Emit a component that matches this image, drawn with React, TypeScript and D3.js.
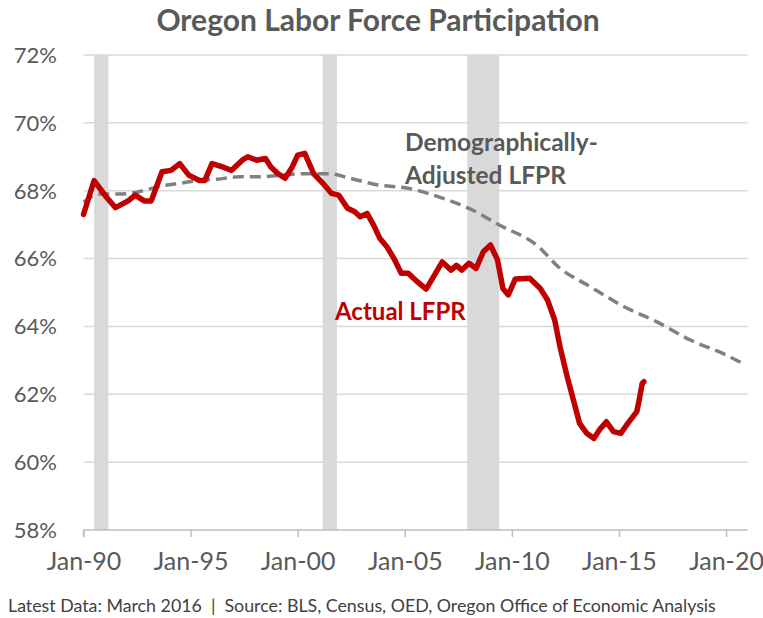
import { useRef, useEffect } from 'react';
import * as d3 from 'd3';

// Actual Oregon LFPR (month, percent)
const ACTUAL_LFPR: [string, number][] = [
  ['1990-01', 67.3], ['1990-07', 68.3], ['1991-02', 67.8], ['1991-07', 67.5],
  ['1992-02', 67.7], ['1992-06', 67.87], ['1992-11', 67.7], ['1993-03', 67.7],
  ['1993-09', 68.56], ['1994-02', 68.6], ['1994-07', 68.8], ['1994-12', 68.46],
  ['1995-06', 68.3], ['1995-09', 68.3], ['1996-01', 68.8], ['1996-07', 68.7],
  ['1996-12', 68.6], ['1997-06', 68.9], ['1997-09', 69.0], ['1998-02', 68.9],
  ['1998-07', 68.95], ['1998-10', 68.7], ['1999-02', 68.5], ['1999-06', 68.37],
  ['1999-10', 68.7], ['2000-01', 69.05], ['2000-05', 69.1], ['2000-10', 68.5],
  ['2001-04', 68.17], ['2001-08', 67.92], ['2001-12', 67.87], ['2002-05', 67.48],
  ['2002-09', 67.38], ['2002-12', 67.23], ['2003-04', 67.33], ['2003-08', 66.94],
  ['2003-11', 66.6], ['2004-03', 66.35], ['2004-07', 66.0], ['2004-11', 65.57],
  ['2005-03', 65.57], ['2005-08', 65.32], ['2006-01', 65.1], ['2006-10', 65.9],
  ['2007-03', 65.66], ['2007-06', 65.8], ['2007-09', 65.66], ['2008-01', 65.86],
  ['2008-05', 65.71], ['2008-09', 66.2], ['2009-01', 66.4], ['2009-05', 65.96],
  ['2009-08', 65.12], ['2009-11', 64.93], ['2010-03', 65.4], ['2010-11', 65.42],
  ['2011-05', 65.12], ['2011-09', 64.78], ['2012-01', 64.19], ['2012-04', 63.4],
  ['2012-08', 62.52], ['2012-12', 61.73], ['2013-03', 61.14], ['2013-07', 60.85],
  ['2013-11', 60.7], ['2014-02', 60.95], ['2014-06', 61.19], ['2014-10', 60.9],
  ['2015-02', 60.85], ['2015-06', 61.14], ['2015-11', 61.49], ['2015-12', 61.73],
  ['2016-02', 62.32], ['2016-03', 62.37],
];

// Demographically-adjusted LFPR (dashed)
const ADJUSTED_LFPR: [string, number][] = [
  ['1990-01', 67.66], ['1990-10', 67.9], ['1991-09', 67.9], ['1992-08', 67.97],
  ['1993-07', 68.12], ['1994-07', 68.22], ['1995-06', 68.3], ['1996-04', 68.34],
  ['1997-04', 68.41], ['1998-03', 68.41], ['1999-02', 68.45], ['2000-02', 68.5],
  ['2001-07', 68.5], ['2002-06', 68.37], ['2003-10', 68.17], ['2005-03', 68.07],
  ['2006-08', 67.82], ['2008-01', 67.48], ['2009-06', 66.99], ['2011-04', 66.35],
  ['2012-03', 65.76], ['2013-09', 65.17], ['2015-04', 64.58], ['2016-10', 64.14],
  ['2018-05', 63.6], ['2020-01', 63.16], ['2020-12', 62.86],
];

// NBER recessions shaded in grey
const RECESSIONS: [string, string][] = [
  ['1990-07', '1991-03'],
  ['2001-03', '2001-11'],
  ['2007-12', '2009-06'],
];

const Y_TICKS = [58, 60, 62, 64, 66, 68, 70, 72];
const X_TICK_YEARS = [1990, 1995, 2000, 2005, 2010, 2015, 2020];

const TITLE = 'Oregon Labor Force Participation';
const FOOTER = 'Latest Data: March 2016  |  Source: BLS, Census, OED, Oregon Office of Economic Analysis';

const FONT = 'Lato, "Open Sans", sans-serif';

export default function App() {
  const svgRef = useRef<SVGSVGElement | null>(null);
  const width = 763;
  const height = 618;

  useEffect(() => {
    if (!svgRef.current) return;
    const svg = d3.select(svgRef.current);
    svg.selectAll('*').remove();

    const parse = d3.timeParse('%Y-%m') as (s: string) => Date;

    const xScale = d3.scaleTime()
      .domain([new Date(1990, 0, 1), new Date(2021, 0, 1)])
      .range([83.5, 747.5]);

    const yScale = d3.scaleLinear()
      .domain([58, 72])
      .range([530, 55]);

    svg.append('rect')
      .attr('width', width)
      .attr('height', height)
      .attr('fill', '#ffffff');

    // Recession bands
    svg.append('g')
      .selectAll('rect')
      .data(RECESSIONS)
      .join('rect')
      .attr('x', (d) => xScale(parse(d[0])))
      .attr('width', (d) => xScale(parse(d[1])) - xScale(parse(d[0])))
      .attr('y', yScale(72))
      .attr('height', yScale(58) - yScale(72))
      .attr('fill', '#d9d9d9');

    // Grid lines
    svg.append('g')
      .selectAll('line')
      .data(Y_TICKS.filter((t) => t > 58))
      .join('line')
      .attr('x1', xScale.range()[0])
      .attr('x2', xScale.range()[1])
      .attr('y1', (d) => yScale(d))
      .attr('y2', (d) => yScale(d))
      .attr('stroke', '#d9d9d9')
      .attr('stroke-width', 1.5);

    // Y labels
    svg.append('g')
      .selectAll('text')
      .data(Y_TICKS)
      .join('text')
      .attr('x', 57)
      .attr('y', (d) => yScale(d))
      .attr('dy', '0.36em')
      .attr('text-anchor', 'end')
      .attr('font-family', FONT)
      .attr('font-size', 22)
      .attr('fill', '#595959')
      .text((d) => `${d}%`);

    // X axis
    const xTicks = X_TICK_YEARS.map((y) => new Date(y, 0, 1));
    const xAxis = d3.axisBottom(xScale)
      .tickValues(xTicks)
      .tickSize(7)
      .tickPadding(15)
      .tickFormat((d) => d3.timeFormat('Jan-%y')(d as Date));

    const gx = svg.append('g')
      .attr('transform', `translate(0,${yScale(58)})`)
      .call(xAxis);
    gx.select('.domain')
      .attr('stroke', '#bfbfbf')
      .attr('stroke-width', 1.5)
      .attr('d', `M${xScale.range()[0]},7V0H${xScale.range()[1]}`);
    gx.selectAll('.tick line')
      .attr('stroke', '#bfbfbf')
      .attr('stroke-width', 1.5);
    gx.selectAll('.tick text')
      .attr('font-family', FONT)
      .attr('font-size', 25)
      .attr('fill', '#595959');

    const line = d3.line<[string, number]>()
      .x((d) => xScale(parse(d[0])))
      .y((d) => yScale(d[1]))
      .curve(d3.curveMonotoneX);

    // Demographically-adjusted (dashed)
    svg.append('path')
      .datum(ADJUSTED_LFPR)
      .attr('d', line)
      .attr('fill', 'none')
      .attr('stroke', '#808080')
      .attr('stroke-width', 3.5)
      .attr('stroke-dasharray', '11,6');

    // Actual
    svg.append('path')
      .datum(ACTUAL_LFPR)
      .attr('d', d3.line<[string, number]>()
        .x((d) => xScale(parse(d[0])))
        .y((d) => yScale(d[1])))
      .attr('fill', 'none')
      .attr('stroke', '#c00000')
      .attr('stroke-width', 5.5)
      .attr('stroke-linejoin', 'round')
      .attr('stroke-linecap', 'round');

    // Annotations
    const adj = svg.append('text')
      .attr('font-family', FONT)
      .attr('font-weight', 700)
      .attr('font-size', 24.5)
      .attr('fill', '#595959');
    adj.append('tspan').attr('x', 405).attr('y', 151).text('Demographically-');
    adj.append('tspan').attr('x', 405).attr('y', 184).text('Adjusted LFPR');

    svg.append('text')
      .attr('x', 335)
      .attr('y', 320)
      .attr('font-family', FONT)
      .attr('font-weight', 700)
      .attr('font-size', 24)
      .attr('fill', '#c00000')
      .text('Actual LFPR');

    // Title
    svg.append('text')
      .attr('x', 378)
      .attr('y', 31)
      .attr('text-anchor', 'middle')
      .attr('font-family', FONT)
      .attr('font-weight', 700)
      .attr('font-size', 30)
      .attr('fill', '#595959')
      .text(TITLE);

    // Footer
    svg.append('text')
      .attr('x', 8)
      .attr('y', 612)
      .attr('font-family', FONT)
      .attr('font-size', 17.8)
      .attr('fill', '#404040')
      .attr('xml:space', 'preserve')
      .style('white-space', 'pre')
      .text(FOOTER);
  }, []);

  return (
    <svg
      ref={svgRef}
      width={width}
      height={height}
      style={{ position: 'absolute', left: 0, top: 0, display: 'block' }}
    />
  );
}
